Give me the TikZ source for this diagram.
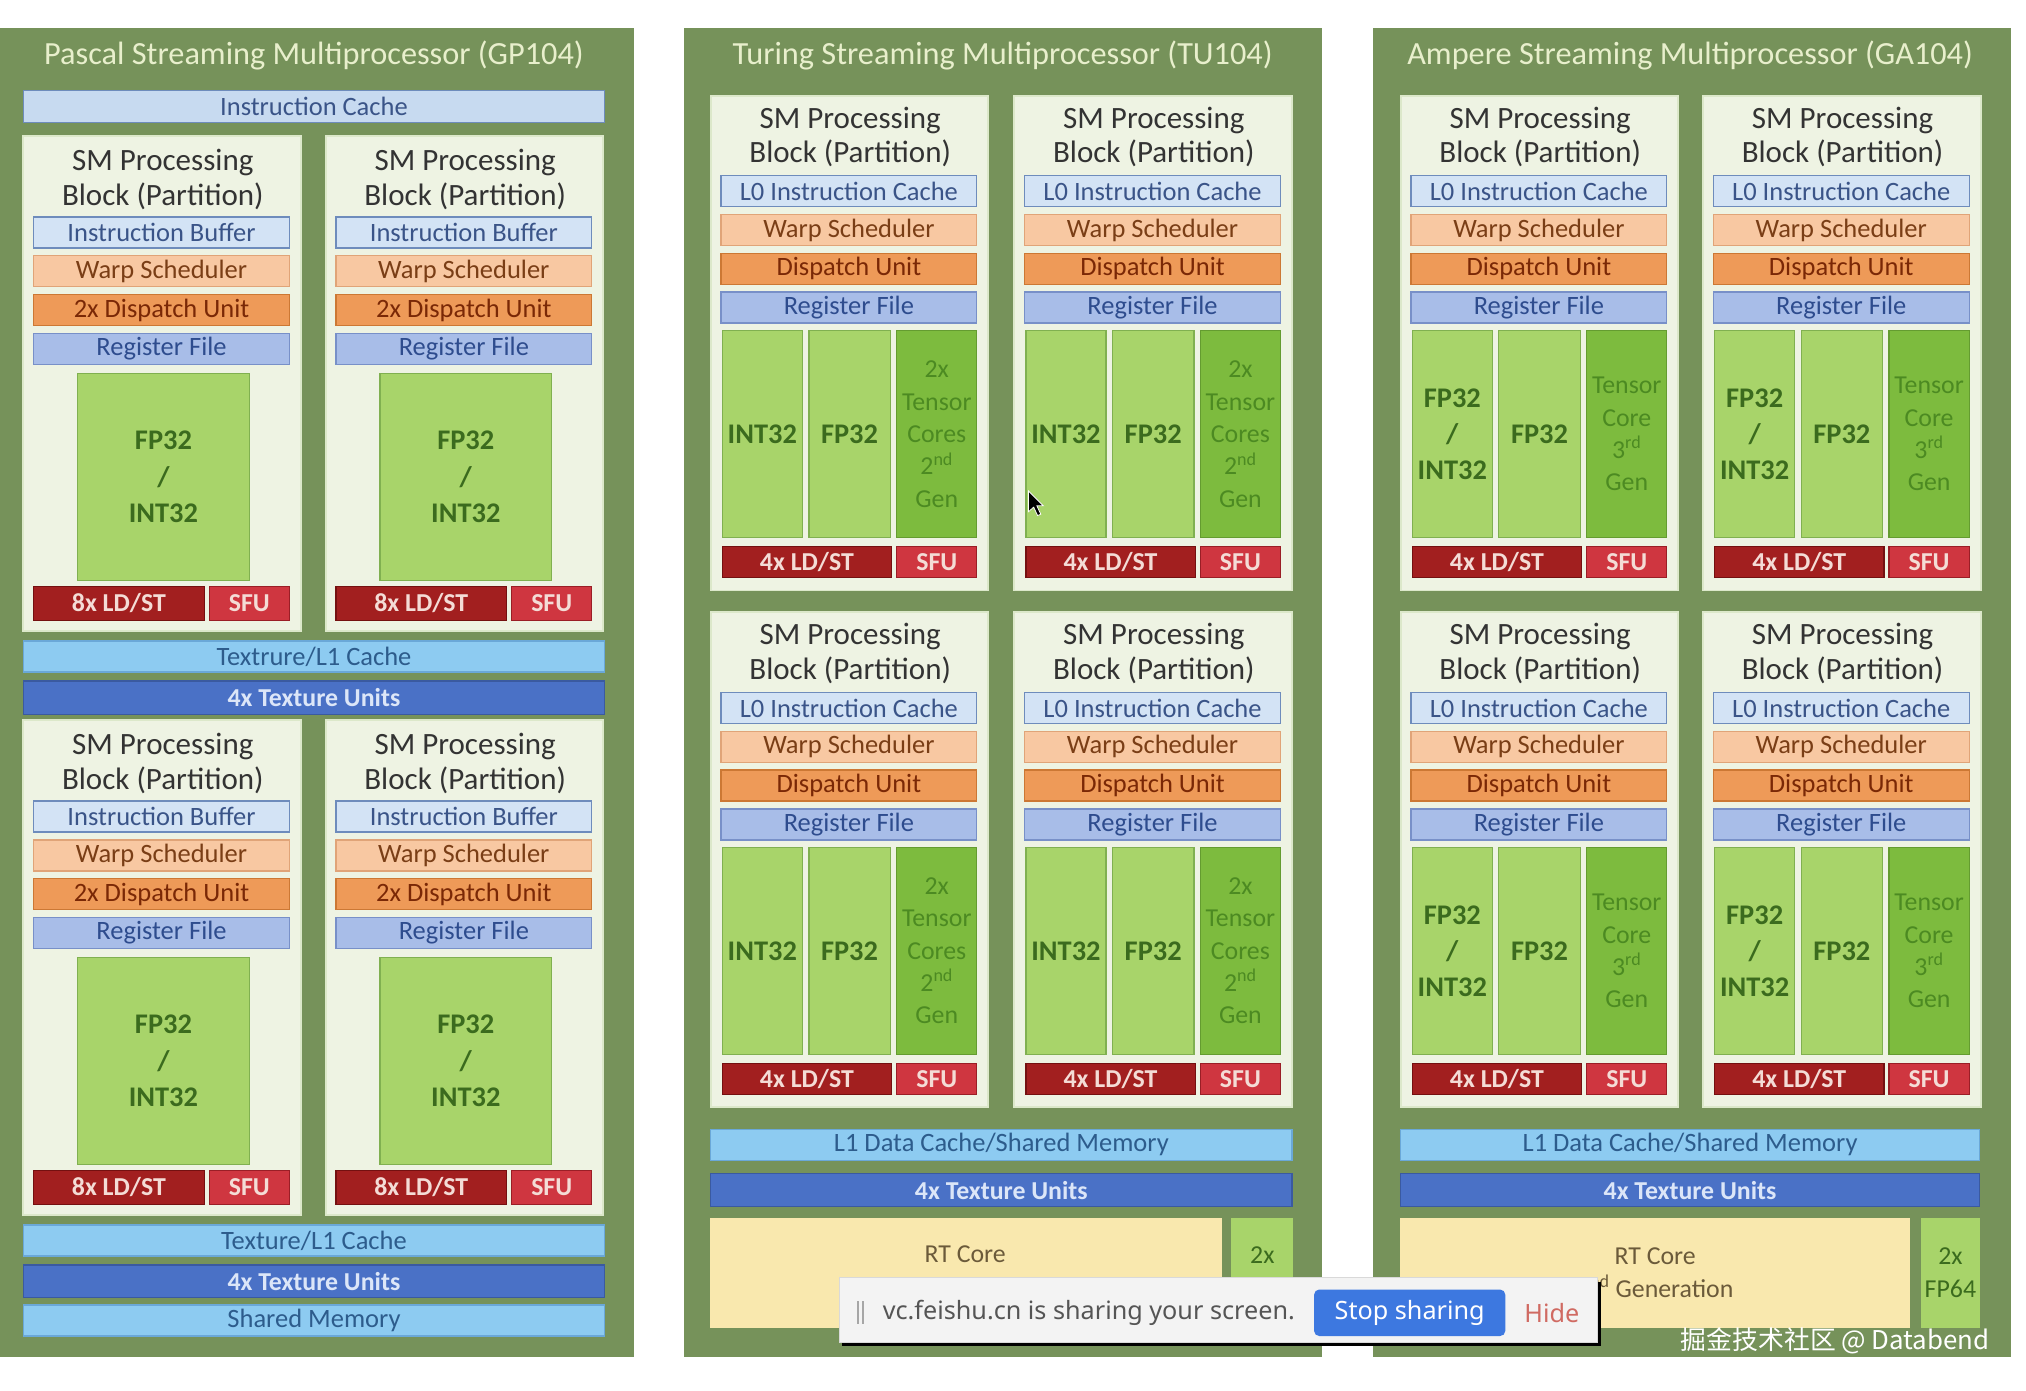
\documentclass[tikz,border=0pt]{standalone}
\usepackage{fontspec}
\setmainfont{Carlito}
\newfontfamily\popfont{Noto Sans}
\newfontfamily\cjk{Noto Sans CJK SC}
\definecolor{panel}{HTML}{76925A}
\definecolor{ptitle}{HTML}{E8EFCC}
\definecolor{blockbg}{HTML}{EEF3E3}
\definecolor{blockbd}{HTML}{DCE8CA}
\definecolor{icfill}{HTML}{C7DAF0}
\definecolor{ibfill}{HTML}{D3E3F5}
\definecolor{ibbd}{HTML}{6E8CBC}
\definecolor{ibtext}{HTML}{3A5488}
\definecolor{wsfill}{HTML}{F8C8A2}
\definecolor{wsbd}{HTML}{E0A478}
\definecolor{wstext}{HTML}{7A3E16}
\definecolor{dufill}{HTML}{EE9A58}
\definecolor{dubd}{HTML}{CC7834}
\definecolor{dutext}{HTML}{7A2806}
\definecolor{rffill}{HTML}{A8BDE8}
\definecolor{rfbd}{HTML}{7890C8}
\definecolor{rftext}{HTML}{2E4C8E}
\definecolor{cufill}{HTML}{A8D46A}
\definecolor{cubd}{HTML}{80B050}
\definecolor{cutext}{HTML}{3B6B1E}
\definecolor{tcfill}{HTML}{7DBB3E}
\definecolor{tcbd}{HTML}{649C30}
\definecolor{tctext}{HTML}{4C8A22}
\definecolor{ldfill}{HTML}{A21F1F}
\definecolor{ldbd}{HTML}{741010}
\definecolor{sffill}{HTML}{CF3640}
\definecolor{sfbd}{HTML}{9A1E26}
\definecolor{ldtext}{HTML}{F4DCD6}
\definecolor{l1fill}{HTML}{8DCBF1}
\definecolor{l1bd}{HTML}{6AA8D8}
\definecolor{l1text}{HTML}{2D5C8C}
\definecolor{txfill}{HTML}{4A71C6}
\definecolor{txbd}{HTML}{3A5AA0}
\definecolor{txtext}{HTML}{DCE6F8}
\definecolor{rtfill}{HTML}{F9E8AE}
\definecolor{rttext}{HTML}{6B5A3A}
\definecolor{popbg}{HTML}{F3F3F3}
\definecolor{popbtn}{HTML}{3D78E0}
\definecolor{poptext}{HTML}{555555}
\definecolor{hidered}{HTML}{D06A62}
\tikzset{
  bx/.style={draw, line width=1pt, inner sep=0pt, outer sep=0pt, align=center, font=\fontsize{20.5}{22}\selectfont},
  blk/.style={bx, fill=blockbg, draw=blockbd, line width=1.5pt},
  ic/.style={bx, fill=icfill, draw=ibbd, text=ibtext},
  ib/.style={bx, fill=ibfill, draw=ibbd, text=ibtext},
  ws/.style={bx, fill=wsfill, draw=wsbd, text=wstext},
  du/.style={bx, fill=dufill, draw=dubd, text=dutext},
  rf/.style={bx, fill=rffill, draw=rfbd, text=rftext},
  cu/.style={bx, fill=cufill, draw=cubd, text=cutext, font=\bfseries\fontsize{22}{28}\selectfont},
  tc/.style={bx, fill=tcfill, draw=tcbd, text=tctext, font=\fontsize{20}{25}\selectfont},
  ld/.style={bx, fill=ldfill, draw=ldbd, text=ldtext, font=\bfseries\fontsize{20}{22}\selectfont},
  sf/.style={bx, fill=sffill, draw=sfbd, text=ldtext, font=\bfseries\fontsize{20}{22}\selectfont},
  l1/.style={bx, fill=l1fill, draw=l1bd, text=l1text},
  tx/.style={bx, fill=txfill, draw=txbd, text=txtext, font=\bfseries\fontsize{20}{22}\selectfont},
  rt/.style={bx, fill=rtfill, draw=rtfill, text=rttext, font=\fontsize{20}{25}\selectfont},
  fp/.style={bx, fill=cufill, draw=cufill, text=cutext, font=\fontsize{20}{25}\selectfont},
  pnl/.style={bx, fill=panel, draw=panel},
  ptl/.style={text=ptitle, font=\fontsize{25}{27}\selectfont, inner sep=0pt},
  sptitle/.style={align=center, inner sep=0pt, text=black!80, font=\fontsize{24}{27}\selectfont},
}
\newcommand{\rb}[7]{\node[#2, minimum width={#5pt-#3pt}, minimum height={#6pt-#4pt}] (#1) at ({(#3+#5)/2},{(#4+#6)/2}) {#7};}
\newcommand{\pblock}[3]{%
\begin{scope}[shift={(#2,#3)}]
\rb{#1bg}{blk}{0}{0}{215}{383}{}
\node[sptitle] (#1t) at (108,34) {SM Processing\\Block (Partition)};
\rb{#1ib}{ib}{8}{63}{206}{87}{Instruction Buffer}
\rb{#1ws}{ws}{8}{93}{206}{117}{Warp Scheduler}
\rb{#1du}{du}{8}{123}{206}{147}{2x Dispatch Unit}
\rb{#1rf}{rf}{8}{153}{206}{177}{Register File}
\rb{#1fp}{cu}{42}{184}{175}{344}{FP32\\/\\INT32}
\rb{#1ld}{ld}{8}{349}{140}{375}{8x LD/ST}
\rb{#1sf}{sf}{144}{349}{206}{375}{SFU}
\end{scope}}
\newcommand{\tblock}[5]{%
\begin{scope}[shift={(#2,#3)}]
\rb{#1bg}{blk}{0}{0}{215}{383}{}
\node[sptitle] (#1t) at (108,32) {SM Processing\\Block (Partition)};
\rb{#1ib}{ib}{8}{62}{206}{86}{L0 Instruction Cache}
\rb{#1ws}{ws}{8}{92}{206}{116}{Warp Scheduler}
\rb{#1du}{du}{8}{122}{206}{146}{Dispatch Unit}
\rb{#1rf}{rf}{8}{152}{206}{176}{Register File}
\rb{#1ca}{cu}{9}{182}{71}{342}{#4}
\rb{#1cb}{cu}{76}{182}{139}{342}{FP32}
\rb{#1cc}{tc}{144}{182}{206}{342}{#5}
\rb{#1ld}{ld}{9}{349}{140}{373}{4x LD/ST}
\rb{#1sf}{sf}{144}{349}{206}{373}{SFU}
\end{scope}}
\begin{document}
\begin{tikzpicture}[x=1pt,y=-1pt]
\useasboundingbox (0,0) rectangle (1568,1076);
\fill[white] (0,0) rectangle (1568,1076);
% ---------- Pascal ----------
\rb{pp}{pnl}{0}{22}{490}{1050}{}
\node[ptl] (ppt) at (243,43) {Pascal Streaming Multiprocessor (GP104)};
\rb{pic}{ic}{18}{70}{468}{95}{Instruction Cache}
\pblock{pa}{18}{105}
\pblock{pb}{252}{105}
\rb{ptl1}{l1}{18}{496}{468}{520}{Textrure/L1 Cache}
\rb{ptx1}{tx}{18}{527}{468}{553}{4x Texture Units}
\pblock{pc}{18}{557}
\pblock{pd}{252}{557}
\rb{ptl2}{l1}{18}{948}{468}{972}{Texture/L1 Cache}
\rb{ptx2}{tx}{18}{979}{468}{1004}{4x Texture Units}
\rb{psm}{l1}{18}{1010}{468}{1034}{Shared Memory}
% ---------- Turing ----------
\rb{tp}{pnl}{530}{22}{1023}{1050}{}
\node[ptl] (tpt) at (776,43) {Turing Streaming Multiprocessor (TU104)};
\tblock{ta}{550}{74}{INT32}{2x\\Tensor\\Cores\\2\textsuperscript{nd}\\Gen}
\tblock{tb}{785}{74}{INT32}{2x\\Tensor\\Cores\\2\textsuperscript{nd}\\Gen}
\tblock{tc}{550}{474}{INT32}{2x\\Tensor\\Cores\\2\textsuperscript{nd}\\Gen}
\tblock{td}{785}{474}{INT32}{2x\\Tensor\\Cores\\2\textsuperscript{nd}\\Gen}
\rb{tl1}{l1}{550}{874}{1000}{898}{L1 Data Cache/Shared Memory}
\rb{ttx}{tx}{550}{908}{1000}{934}{4x Texture Units}
\rb{trt}{rt}{550}{943}{945}{1027}{}
\node[text=rttext, font=\fontsize{20}{25}\selectfont, inner sep=0pt] (trtt) at (747,971) {RT Core};
\rb{tfp}{fp}{953}{943}{1000}{1027}{}
\node[text=cutext, font=\fontsize{20}{25}\selectfont, inner sep=0pt] (tfpt) at (977,971) {2x};
% ---------- Ampere ----------
\rb{ap}{pnl}{1063}{22}{1556}{1050}{}
\node[ptl] (apt) at (1308,43) {Ampere Streaming Multiprocessor (GA104)};
\tblock{aa}{1084}{74}{FP32\\/\\INT32}{Tensor\\Core\\3\textsuperscript{rd}\\Gen}
\tblock{ab}{1318}{74}{FP32\\/\\INT32}{Tensor\\Core\\3\textsuperscript{rd}\\Gen}
\tblock{ac}{1084}{474}{FP32\\/\\INT32}{Tensor\\Core\\3\textsuperscript{rd}\\Gen}
\tblock{ad}{1318}{474}{FP32\\/\\INT32}{Tensor\\Core\\3\textsuperscript{rd}\\Gen}
\rb{al1}{l1}{1084}{874}{1532}{898}{L1 Data Cache/Shared Memory}
\rb{atx}{tx}{1084}{908}{1532}{934}{4x Texture Units}
\rb{art}{rt}{1084}{943}{1478}{1027}{RT Core\\2\textsuperscript{nd} Generation}
\rb{afp}{fp}{1487}{943}{1532}{1027}{2x\\FP64}
% ---------- cursor ----------
\filldraw[fill=black, draw=white, line width=0.6pt] (796,380) -- (796,396) -- (800,392.5) -- (803,399) -- (805.5,398) -- (802.5,391.5) -- (807.5,391.5) -- cycle;
% ---------- popup ----------
\fill[black] (652,992) rectangle (1239,1042);
\rb{pop}{bx}{650}{989}{1236}{1039}{}
\path[fill=popbg, draw=black!15, line width=0.8pt] (pop.south west) rectangle (pop.north east);
\draw[black!35, line width=1.2pt] (664,1007) -- (664,1025);
\draw[black!35, line width=1.2pt] (668,1007) -- (668,1025);
\node[anchor=west, inner sep=0pt, text=poptext, font=\popfont\fontsize{19.5}{22}\selectfont] (popt) at (683,1016) {vc.feishu.cn is sharing your screen.};
\node[fill=popbtn, rounded corners=4pt, minimum width=148pt, minimum height=36pt, inner sep=0pt, text=white, font=\popfont\fontsize{19.5}{22}\selectfont] (popbtn) at (1091,1016) {Stop sharing};
\node[inner sep=0pt, text=hidered, font=\popfont\fontsize{19.5}{22}\selectfont] (pophide) at (1201,1016) {Hide};
% ---------- watermark ----------
\node[anchor=east, inner sep=0pt, text=white, font=\cjk\fontsize{20}{22}\selectfont] (wm) at (1540,1038) {掘金技术社区 @ Databend};
\end{tikzpicture}
\end{document}
